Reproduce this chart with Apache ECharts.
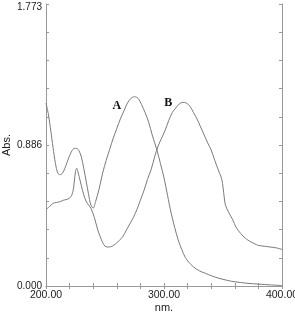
<!DOCTYPE html>
<html>
<head>
<meta charset="utf-8">
<script src="https://cdn.jsdelivr.net/npm/echarts@6/dist/echarts.min.js"></script>
<style>
html,body{margin:0;padding:0;background:#fff;}
#main{width:295px;height:312px;}
</style>
</head>
<body>
<div id="main"></div>
<script>
// spectrum A (nm, abs)
var curveA = [
  [200,1.15],[202,1.08],[204,0.98],[206,0.87],[208,0.77],[210,0.71],[212,0.70],[214,0.71],
  [216,0.74],[218,0.78],[220,0.82],[222,0.85],[224,0.865],[226,0.865],[228,0.85],[230,0.81],
  [232,0.74],[234,0.66],[236,0.58],[238,0.51],[240,0.49],[242,0.53],[245,0.61],[248,0.71],
  [251,0.79],[254,0.86],[257,0.93],[260,0.99],[263,1.05],[266,1.10],[269,1.15],[272,1.18],
  [275,1.19],[278,1.18],[281,1.14],[284,1.09],[287,1.03],[290,0.95],[294,0.855],[297,0.77],
  [300,0.68],[303,0.57],[306,0.46],[309,0.37],[312,0.29],[315,0.23],[318,0.18],[321,0.15],
  [325,0.12],[330,0.095],[335,0.08],[340,0.065],[345,0.052],[350,0.042],[357,0.03],
  [365,0.022],[372,0.016],[380,0.012],[390,0.007],[400,0.003]
];
// spectrum B (nm, abs)
var curveB = [
  [200,0.48],[203,0.50],[206,0.52],[209,0.525],[212,0.53],[215,0.54],[218,0.545],[221,0.56],
  [223,0.60],[225,0.72],[226,0.74],[227,0.72],[229,0.66],[231,0.60],[233,0.55],[235,0.52],
  [238,0.49],[241,0.43],[244,0.35],[247,0.29],[250,0.25],[253,0.245],[256,0.25],[259,0.265],
  [262,0.285],[265,0.31],[268,0.35],[271,0.39],[274,0.43],[277,0.48],[280,0.54],[283,0.60],
  [286,0.67],[289,0.73],[292,0.81],[295,0.88],[298,0.93],[301,0.98],[304,1.04],[307,1.09],
  [310,1.12],[313,1.145],[316,1.155],[319,1.15],[322,1.13],[325,1.09],[328,1.05],[331,1.00],
  [334,0.95],[337,0.90],[340,0.855],[343,0.79],[346,0.73],[349,0.67],[351,0.56],[352,0.51],
  [355,0.46],[358,0.42],[361,0.37],[365,0.33],[369,0.30],[373,0.28],[377,0.265],[380,0.255],
  [385,0.25],[390,0.245],[395,0.24],[400,0.23]
];
var labelA = [260, 1.13];
var labelB = [303.5, 1.15];

var xMin = 200, xMax = 400, xStep = 20;
var yMin = 0, yMax = 1.773, yStep = 0.1773;

var myChart = echarts.init(document.getElementById('main'));
var axisColor = '#999';
var font = 'Liberation Sans, Arial, sans-serif';

function frameAxis(extra){
  return Object.assign({
    type: 'value',
    axisLine: {show: true, lineStyle: {color: axisColor, width: 1}},
    axisTick: {show: true, inside: true, length: 3, lineStyle: {color: axisColor}},
    splitLine: {show: false},
    axisLabel: {show: false}
  }, extra);
}

var option = {
  animation: false,
  grid: {left: 46, right: 13, top: 4, bottom: 26, outerBoundsMode: 'none', containLabel: false},
  xAxis: [
    frameAxis({
      position: 'bottom', min: xMin, max: xMax, interval: xStep,
      name: 'nm.', nameLocation: 'middle', nameGap: 16, nameMoveOverlap: false,
      nameTextStyle: {color: '#222', fontSize: 11, fontFamily: font},
      axisLabel: {
        show: true, color: '#222', fontSize: 10.5, fontFamily: font, margin: 4,
        formatter: function(v){ return v % 100 === 0 ? v.toFixed(2) : ''; }
      }
    }),
    frameAxis({position: 'top', min: xMin, max: xMax, interval: xStep})
  ],
  yAxis: [
    frameAxis({
      position: 'left', min: yMin, max: yMax, interval: yStep,
      name: 'Abs.', nameLocation: 'middle', nameGap: 34, nameMoveOverlap: false,
      nameTextStyle: {color: '#222', fontSize: 11, fontFamily: font},
      axisLabel: {
        show: true, color: '#222', fontSize: 10, fontFamily: font, margin: 4,
        formatter: function(v, i){
          if (i % 5 !== 0) return '';
          return i === 10 ? '{t|' + v.toFixed(3) + '}' : v.toFixed(3);
        },
        rich: {t: {color: '#222', fontSize: 10, fontFamily: font, padding: [6, 0, 0, 0]}}
      }
    }),
    frameAxis({position: 'right', min: yMin, max: yMax, interval: yStep})
  ],
  series: [
    {
      name: 'A', type: 'line', data: curveA, smooth: 0.3, symbol: 'none',
      lineStyle: {color: '#7a7a7a', width: 1},
      markPoint: {
        symbolSize: 0,
        data: [{coord: labelA}],
        label: {show: true, formatter: 'A', color: '#111', fontSize: 12, fontWeight: 'bold',
          fontFamily: 'Liberation Serif, Times New Roman, serif'}
      }
    },
    {
      name: 'B', type: 'line', data: curveB, smooth: 0.3, symbol: 'none',
      lineStyle: {color: '#7a7a7a', width: 1},
      markPoint: {
        symbolSize: 0,
        data: [{coord: labelB}],
        label: {show: true, formatter: 'B', color: '#111', fontSize: 12, fontWeight: 'bold',
          fontFamily: 'Liberation Serif, Times New Roman, serif'}
      }
    }
  ]
};
myChart.setOption(option);
</script>
</body>
</html>
